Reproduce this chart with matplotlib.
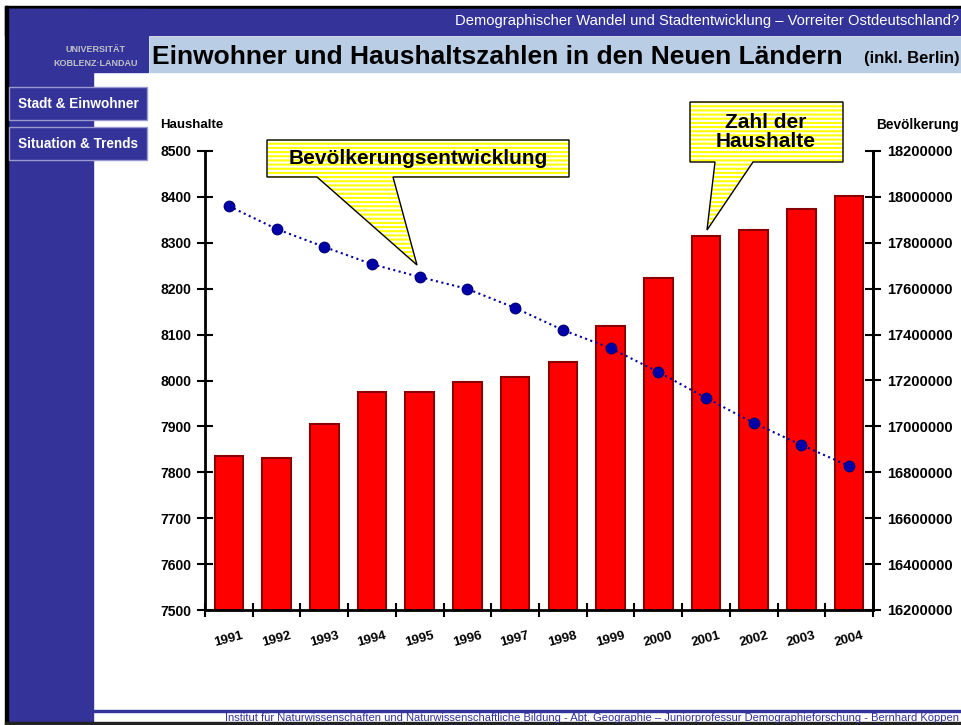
import matplotlib
matplotlib.use("Agg")
import matplotlib.pyplot as plt
from matplotlib.patches import Rectangle, Polygon
from matplotlib.ticker import FuncFormatter
import numpy as np

# data
years = ["1991", "1992", "1993", "1994", "1995", "1996", "1997",
         "1998", "1999", "2000", "2001", "2002", "2003", "2004"]
haushalte = [7835, 7831, 7905, 7975, 7975, 7997, 8008,
             8040, 8119, 8223, 8315, 8328, 8374, 8402]
bevoelkerung = [17960000, 17860000, 17782000, 17707000, 17651000, 17599000, 17516000,
                17420000, 17341000, 17237000, 17124000, 17015000, 16919000, 16827000]

W, H = 962, 725
BLUE = '#333399'
plt.rcParams['font.family'] = ['Liberation Sans', 'DejaVu Sans']
plt.rcParams['hatch.linewidth'] = 1.5

fig = plt.figure(figsize=(W / 100, H / 100), dpi=100)


def fx(x):
    return x / W


def fy(y):
    return 1 - y / H


def box(x0, y0, x1, y1, **kw):
    fig.add_artist(Rectangle((fx(x0), fy(y1)), (x1 - x0) / W, (y1 - y0) / H,
                             transform=fig.transFigure, **kw))


# slide frame
box(5, 6, W, 9, color='black', zorder=-1)
box(5, 9, W, 35, color=BLUE, zorder=-1)
box(7, 9, 148, 72, color=BLUE, zorder=-1)
box(7, 9, 93, 722, color=BLUE, zorder=-1)
box(5, 6, 8, 725, color='black', zorder=-1)
box(5, 722, W, 725, color='#222222', zorder=-1)
box(150, 37, W, 72, color='#b9cde5', zorder=-1)
box(94, 710, W, 712, color=BLUE, zorder=-1)

fig.text(fx(959), fy(21), "Demographischer Wandel und Stadtentwicklung \u2013 Vorreiter Ostdeutschland?",
         color='white', fontsize=10.6, ha='right', va='center')
fig.text(fx(152), fy(57), "Einwohner und Haushaltszahlen in den Neuen L\u00e4ndern",
         fontsize=19, fontweight='bold', va='center', ha='left')
fig.text(fx(960), fy(58), "(inkl. Berlin)", fontsize=12, fontweight='bold',
         va='center', ha='right')
fig.text(fx(96), fy(50), "UNIVERSIT\u00c4T", color='#c0c0c8', fontsize=6.5,
         fontweight='bold', va='center', ha='center')
fig.text(fx(96), fy(63), "KOBLENZ\u00b7LANDAU", color='#c0c0c8', fontsize=6.5,
         fontweight='bold', va='center', ha='center')

for (y0, y1, label) in [(87, 120, "Stadt & Einwohner"), (127, 160, "Situation & Trends")]:
    box(9, y0, 147, y1, facecolor=BLUE, edgecolor='#9a9ad0', lw=1, zorder=-1)
    fig.text(fx(78), fy((y0 + y1) / 2), label, color='white', fontsize=9.8,
             fontweight='bold', ha='center', va='center')

fig.text(fx(959), fy(718), "Institut f\u00fcr Naturwissenschaften und Naturwissenschaftliche Bildung - "
         "Abt. Geographie \u2013 Juniorprofessur Demographieforschung - Bernhard K\u00f6ppen",
         color=BLUE, fontsize=8, ha='right', va='center')

# chart
ax = fig.add_axes([fx(205), fy(610), (873 - 205) / W, (610 - 151) / H])
x = np.arange(len(years))
ax.bar(x, haushalte, width=0.6, color='#ff0000', edgecolor='#8b0000', lw=1.5, zorder=2)
ax.set_xlim(-0.5, len(years) - 0.5)
ax.set_ylim(7500, 8500)
ax.set_yticks(range(7500, 8501, 100))
ax.set_xticks(np.arange(-0.5, len(years), 1))
ax.set_xticklabels([])
ax.set_xticks(x, minor=True)
ax.set_xticklabels(years, minor=True, rotation=15, fontweight='bold', fontsize=9.5)
ax.tick_params(axis='x', which='minor', length=0, pad=14)
ax.tick_params(axis='x', which='major', direction='inout', length=10, width=1.5)
ax.tick_params(axis='y', direction='inout', length=12, width=1.5, labelsize=10, pad=4)
for lab in ax.get_yticklabels():
    lab.set_fontweight('bold')
ax.spines['top'].set_visible(False)
for s in ['left', 'right', 'bottom']:
    ax.spines[s].set_linewidth(2)

ax2 = ax.twinx()
ax2.plot(x, bevoelkerung, ls=':', lw=1.5, color='#000099', marker='o', ms=7.5,
         markerfacecolor='#0000aa', markeredgecolor='#000080', zorder=3)
ax2.set_ylim(16200000, 18200000)
ax2.set_yticks(range(16200000, 18200001, 200000))
ax2.yaxis.set_major_formatter(FuncFormatter(lambda v, p: "%d" % v))
ax2.tick_params(axis='y', direction='inout', length=12, width=1.5, labelsize=10.5, pad=4)
for lab in ax2.get_yticklabels():
    lab.set_fontweight('bold')
ax2.spines['top'].set_visible(False)
ax2.spines['right'].set_linewidth(2)

fig.text(fx(160), fy(125), "Haushalte", fontsize=9.5, fontweight='bold', va='center', ha='left')
fig.text(fx(959), fy(125), "Bev\u00f6lkerung", fontsize=9.8, fontweight='bold', va='center', ha='right')


# callouts
def callout(pts, text, cx, cy):
    pts = [(fx(px), fy(py)) for px, py in pts]
    fig.add_artist(Polygon(pts, closed=True, facecolor='white', edgecolor='#ffff00',
                           hatch='----', lw=0, transform=fig.transFigure, zorder=4))
    fig.add_artist(Polygon(pts, closed=True, fill=False, edgecolor='black',
                           lw=1, transform=fig.transFigure, zorder=5))
    fig.text(fx(cx), fy(cy), text, fontsize=15, fontweight='bold', ha='center',
             va='center', linespacing=1.05, zorder=6)


callout([(267, 140), (569, 140), (569, 177), (393, 177), (417, 265), (317, 177), (267, 177)],
        "Bev\u00f6lkerungsentwicklung", 418, 159)
callout([(690, 102), (843, 102), (843, 162), (753, 162), (707, 230), (715, 162), (690, 162)],
        "Zahl der\nHaushalte", 766, 132)

fig.savefig("out.png", dpi=100)
